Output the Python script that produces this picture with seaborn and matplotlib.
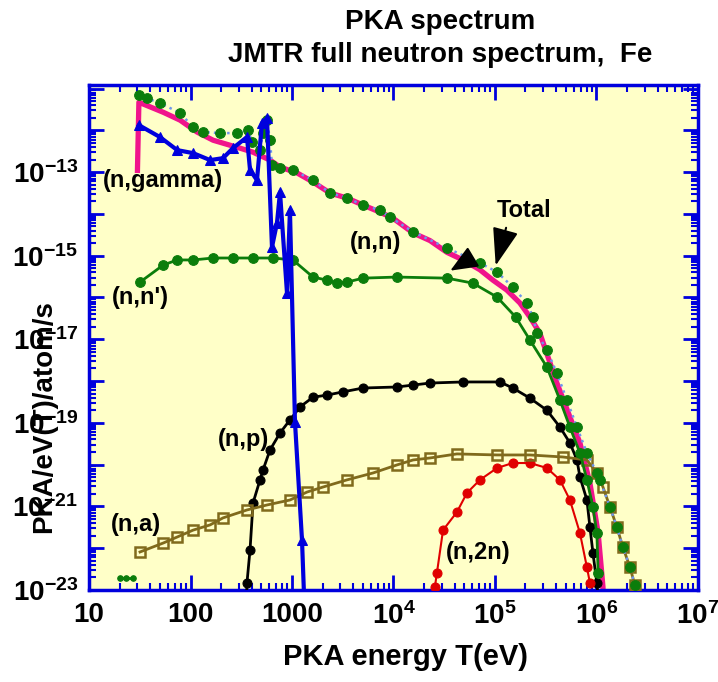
import numpy as np
import matplotlib
matplotlib.use('Agg')
import matplotlib.pyplot as plt
import seaborn as sns
from matplotlib.ticker import LogLocator, NullFormatter

plt.rcParams['font.family'] = ['Liberation Sans', 'DejaVu Sans']
plt.rcParams['font.weight'] = 'bold'
plt.rcParams['mathtext.fontset'] = 'custom'
plt.rcParams['mathtext.rm'] = 'Liberation Sans:bold'
plt.rcParams['mathtext.bf'] = 'Liberation Sans:bold'
plt.rcParams['mathtext.default'] = 'bf'

# Total (green dots + blue dotted line)
total_E = [31, 37, 50, 79, 106, 133, 195, 287, 369, 404, 484, 518, 567, 607, 635, 762, 1020,
           1610, 2370, 3480, 5010, 7360, 9250, 15600, 33700, 71100, 105000, 150000, 207000,
           237000, 259000, 325000, 408000, 512000, 643000, 806000, 1.01e6, 1.08e6, 1.36e6,
           1.59e6, 1.82e6, 2.14e6, 2.39e6]
total_V = [6.95e-12, 5.9e-12, 4.5e-12, 2.6e-12, 1.19e-12, 9.1e-13, 8.6e-13, 8.6e-13, 1.01e-12,
           5.2e-13, 3.4e-13, 8.6e-13, 1.75e-12, 5.8e-13, 1.47e-13, 1.25e-13, 1.12e-13, 6.4e-14,
           3.15e-14, 2.4e-14, 1.63e-14, 1.23e-14, 8.4e-15, 3.7e-15, 1.52e-15, 6.7e-16, 4.05e-16,
           1.77e-16, 7.3e-17, 3.4e-17, 1.4e-17, 5.5e-18, 1.55e-18, 3.5e-19, 7.9e-20, 1.9e-20,
           6.3e-21, 4.3e-21, 9.7e-22, 3.2e-22, 1.07e-22, 3.5e-23, 1.32e-23]

# (n,n) elastic
nn_E = [30, 31, 54, 79, 116, 167, 245, 307, 413, 607, 762, 1120, 1610, 2370, 3480, 5010, 7360,
        9890, 15600, 22900, 33700, 48400, 71100, 95500, 131000, 176000, 221000, 277000, 408000,
        548000, 688000, 863000, 1.04e6, 1.16e6, 1.2e6]
nn_V = [1.1e-13, 4.7e-12, 2.7e-12, 1.75e-12, 9.1e-13, 5.8e-13, 4.4e-13, 3.75e-13, 3.0e-13,
        1.94e-13, 1.32e-13, 9.6e-14, 5.8e-14, 3.15e-14, 2.4e-14, 1.63e-14, 1.1e-14, 7.9e-15,
        3.5e-15, 2.3e-15, 1.2e-15, 7.9e-16, 4.6e-16, 2.6e-16, 1.5e-16, 7.4e-17, 3.4e-17, 1.4e-17,
        8.95e-19, 1.38e-19, 3.3e-20, 3.6e-21, 2.3e-22, 1.18e-23, 1e-24]

# (n,gamma)
ng_E = [31, 50, 74, 106, 156, 209, 262, 360, 386, 452, 506, 567, 635, 711, 762, 893, 955,
        1070, 1255, 1313]
ng_V = [1.33e-12, 6.9e-13, 3.36e-13, 2.85e-13, 1.94e-13, 2.16e-13, 3.75e-13, 6.9e-13, 1.12e-13,
        6.4e-14, 1.49e-12, 1.96e-12, 1.6e-15, 6.0e-15, 3.3e-14, 1.27e-16, 1.23e-14, 1.05e-19,
        1.57e-22, 8e-24]

# (n,n')
ninel_E = [31.8, 54, 74, 106, 167, 262, 413, 650, 1020, 1610, 2210, 2770, 3480, 5010, 10800,
           33700, 60700, 105000, 160000, 221000, 325000, 437000, 548000, 688000, 806000,
           924000, 1.01e6, 1.04e6]
ninel_V = [2.33e-16, 6.0e-16, 7.9e-16, 7.9e-16, 8.8e-16, 8.8e-16, 8.8e-16, 8.8e-16, 7.9e-16,
           3.08e-16, 2.6e-16, 2.2e-16, 2.33e-16, 2.9e-16, 3.08e-16, 2.9e-16, 2.2e-16, 1.02e-16,
           3.4e-17, 9.6e-18, 2.16e-18, 3.5e-19, 7.9e-20, 1.9e-20, 4.3e-21, 9.7e-22, 2.3e-22,
           2.55e-23]
low_E = [20, 23, 27]
low_V = [1.9e-23, 1.9e-23, 1.9e-23]

# (n,p)
np_E = [355, 360, 386, 413, 484, 518, 607, 762, 955, 1200, 1610, 2210, 3180, 5010, 10800,
        15600, 22900, 48400, 112000, 150000, 221000, 325000, 437000, 548000, 643000, 688000,
        806000, 863000, 924000, 1.01e6, 1.05e6]
np_V = [5e-24, 1.47e-23, 9.1e-23, 1.2e-21, 4.3e-21, 7.4e-21, 2.23e-20, 5.7e-20, 1.17e-19,
        2.4e-19, 4.1e-19, 4.6e-19, 5.5e-19, 6.8e-19, 7.2e-19, 8.0e-19, 8.95e-19, 9.5e-19,
        9.5e-19, 6.8e-19, 3.9e-19, 2.0e-19, 7.9e-20, 3.3e-20, 1.29e-20, 5.05e-21, 1.42e-21,
        3.2e-22, 7.7e-23, 1.47e-23, 5e-24]

# (n,a)
na_E = [31.8, 54, 74, 106, 156, 209, 360, 567, 955, 1406, 2020, 3480, 6290, 10800, 15600,
        22900, 42200, 105000, 221000, 468000, 806000, 1.01e6, 1.16e6, 1.36e6, 1.59e6, 1.82e6,
        2.14e6, 2.39e6]
na_V = [8.1e-23, 1.33e-22, 1.85e-22, 2.7e-22, 3.6e-22, 5.3e-22, 8.2e-22, 1.08e-21, 1.42e-21,
        2.2e-21, 2.9e-21, 4.3e-21, 6.3e-21, 9.8e-21, 1.29e-20, 1.44e-20, 1.8e-20, 1.7e-20,
        1.7e-20, 1.52e-20, 1.29e-20, 6.3e-21, 2.9e-21, 9.7e-22, 3.2e-22, 1.07e-22, 3.5e-23,
        1.32e-23]

# (n,2n)
n2n_E = [25000, 25600, 26800, 30800, 42200, 53000, 71100, 105000, 150000, 221000, 325000,
         437000, 548000, 688000, 806000, 863000]
n2n_V = [5e-24, 1.18e-23, 2.55e-23, 2.7e-22, 7.3e-22, 2.1e-21, 4.3e-21, 8.3e-21, 1.09e-20,
         1.09e-20, 8.3e-21, 4.3e-21, 1.42e-21, 2.3e-22, 3.5e-23, 1.47e-23]

xtick_vals = [10, 100, 1000, 1e4, 1e5, 1e6, 1e7]
xtick_labels = ['10', '100', '1000', '$10^{4}$', '$10^{5}$', '$10^{6}$', '$10^{7}$']
yexp = list(range(-23, -10))
ylabeled = [-23, -21, -19, -17, -15, -13]

GREEN = '#0b7d0b'
BLUE = '#0000dd'

fig = plt.figure(figsize=(7.18, 6.82), dpi=100)
ax = fig.add_axes([0.124, 0.135, 0.848, 0.740])
ax.set_facecolor('#ffffc8')
ax.set_xscale('log')
ax.set_yscale('log')

common = dict(ax=ax, sort=False, estimator=None)
sns.lineplot(x=nn_E, y=nn_V, color='#f0148c', linewidth=3.8, zorder=2, **common)
sns.lineplot(x=np_E, y=np_V, color='black', linewidth=2, marker='o', markersize=6.5,
             markeredgecolor='black', zorder=3, **common)
sns.lineplot(x=n2n_E, y=n2n_V, color='#e00000', linewidth=1.5, marker='o', markersize=6.5,
             markeredgecolor='#e00000', zorder=3, **common)
sns.lineplot(x=na_E, y=na_V, color='#806a1c', linewidth=2, marker='s', markersize=7,
             markerfacecolor='none', markeredgecolor='#806a1c', markeredgewidth=1.8,
             zorder=3, **common)
sns.lineplot(x=ninel_E, y=ninel_V, color=GREEN, linewidth=2, marker='o', markersize=7,
             markeredgecolor=GREEN, zorder=3, **common)
sns.lineplot(x=low_E, y=low_V, color=GREEN, linewidth=2, marker='o', markersize=4,
             markeredgecolor=GREEN, zorder=3, **common)
sns.lineplot(x=total_E, y=total_V, color='#6f95ee', linewidth=1.8, linestyle=':',
             marker='o', markersize=7, markerfacecolor=GREEN, markeredgecolor=GREEN,
             zorder=4, **common)
sns.lineplot(x=ng_E, y=ng_V, color=BLUE, linewidth=3, marker='^', markersize=7.5,
             markeredgecolor=BLUE, zorder=5, **common)

ax.set_xticks(xtick_vals, labels=xtick_labels)
ax.set_yticks([10.0 ** e for e in yexp],
              labels=['$10^{%d}$' % e if e in ylabeled else '' for e in yexp])
for axis in (ax.xaxis, ax.yaxis):
    axis.set_minor_locator(LogLocator(base=10, subs=np.arange(2, 10), numticks=100))
    axis.set_minor_formatter(NullFormatter())
ax.set_xlim(10, 1e7)
ax.set_ylim(1e-23, 1.2e-11)

ax.tick_params(which='both', direction='in', top=True, right=True, color=BLUE, labelsize=20)
ax.tick_params(which='major', length=11, width=2)
ax.tick_params(which='minor', length=5, width=1.5)
ax.tick_params(axis='y', pad=8)
ax.tick_params(axis='x', pad=9)
for s in ax.spines.values():
    s.set_color(BLUE)
    s.set_linewidth(2.5)

ax.set_xlabel('PKA energy T(eV)', fontsize=21, fontweight='bold')
ax.xaxis.set_label_coords(0.519, -0.105)
ax.set_ylabel('PKA/eV(T)/atom/s', fontsize=20, fontweight='bold')
ax.yaxis.set_label_coords(-0.053, 0.343)

fig.text(0.613, 1 - 22 / 682, 'PKA spectrum', ha='center', va='center', fontsize=20,
         fontweight='bold')
fig.text(0.613, 1 - 55 / 682, 'JMTR full neutron spectrum,  Fe', ha='center', va='center',
         fontsize=20, fontweight='bold')

lab = dict(fontsize=17, fontweight='bold', ha='left', va='center', zorder=6)
ax.text(13.7, 6.4e-14, '(n,gamma)', **lab)
ax.text(3720, 2.1e-15, '(n,n)', **lab)
ax.text(1.05e5, 1.23e-14, 'Total', **lab)
ax.text(16.9, 1.02e-16, "(n,n')", **lab)
ax.text(187, 3.9e-20, '(n,p)', **lab)
ax.text(16.5, 3.6e-22, '(n,a)', **lab)
ax.text(32900, 7.7e-23, '(n,2n)', **lab)

ax.annotate('', xy=(1.0e5, 5.0e-16), xytext=(1.31e5, 5.4e-15), zorder=6,
            arrowprops=dict(arrowstyle='-|>,head_length=1.3,head_width=0.45', color='black',
                            lw=1.5, mutation_scale=18))
ax.annotate('', xy=(34400, 4.05e-16), xytext=(55000, 8.0e-16), zorder=6,
            arrowprops=dict(arrowstyle='-|>,head_length=1.2,head_width=0.5', color='black',
                            lw=1.5, mutation_scale=14))

fig.savefig('out.png', dpi=100)
